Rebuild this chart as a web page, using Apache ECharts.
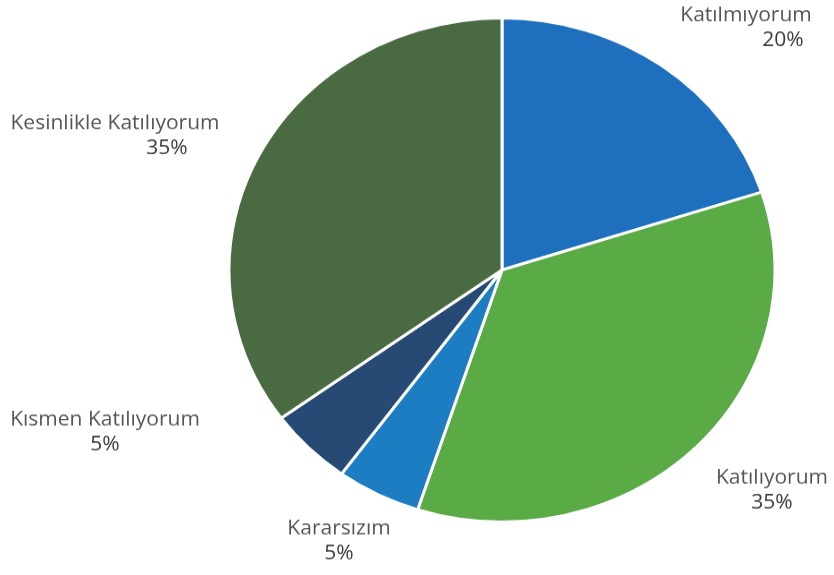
<!DOCTYPE html>
<html>
<head>
<meta charset="utf-8" />
<script src="https://cdn.jsdelivr.net/npm/echarts@6/dist/echarts.min.js"></script>
<title>Pie</title>
<style>
  body { margin: 0; background: #fff; overflow: hidden; }
  /* the source picture is stretched a little sideways, so squash the chart vertically */
  #main { width: 834px; height: 623px; transform: scaleY(0.923); transform-origin: 0 0; }
</style>
</head>
<body>
<div id="main"></div>
<script type="text/javascript">
var names = ['Katılmıyorum', 'Katılıyorum', 'Kararsızım', 'Kısmen Katılıyorum', 'Kesinlikle Katılıyorum'];
var values = [20, 35, 5, 5, 35];
var colors = ['#1f6fbf', '#5aab46', '#1d7dc2', '#264a73', '#4a6b42'];

// label spots (chart coords) and shift of the % line
var labelPos = [[746, 31], [772, 532], [339, 587], [105, 469], [115, 148]];
var pctShift = [74, 0, 0, 0, 104];

var myChart = echarts.init(document.getElementById('main'));
var pieData = [];
for (var i = 0; i < names.length; i++) {
    pieData.push({ name: names[i], value: values[i], itemStyle: { color: colors[i] } });
}
var rich = {
    n: { fontFamily: 'Open Sans', fontSize: 21, color: '#555555', lineHeight: 27 }
};
for (var j = 0; j < pctShift.length; j++) {
    rich['p' + j] = { fontFamily: 'Open Sans', fontSize: 21, color: '#3a3a3a', lineHeight: 27,
        padding: [0, 0, 0, pctShift[j]] };
}

myChart.setOption({
    animation: false,
    series: [{
        type: 'pie',
        center: [502, 292.5],
        radius: 273,
        startAngle: 90,
        clockwise: true,
        data: pieData,
        itemStyle: { borderColor: '#fff', borderWidth: 3 },
        labelLine: { show: false },
        label: {
            show: true,
            position: 'outside',
            overflow: 'none',
            bleedMargin: 0,
            formatter: function (p) {
                return '{n|' + p.name + '}\n{p' + p.dataIndex + '|' + p.value + '%}';
            },
            rich: rich
        },
        labelLayout: function (params) {
            var pos = labelPos[params.dataIndex];
            return { x: pos[0], y: pos[1], align: 'center', verticalAlign: 'middle' };
        }
    }]
});
</script>
</body>
</html>
